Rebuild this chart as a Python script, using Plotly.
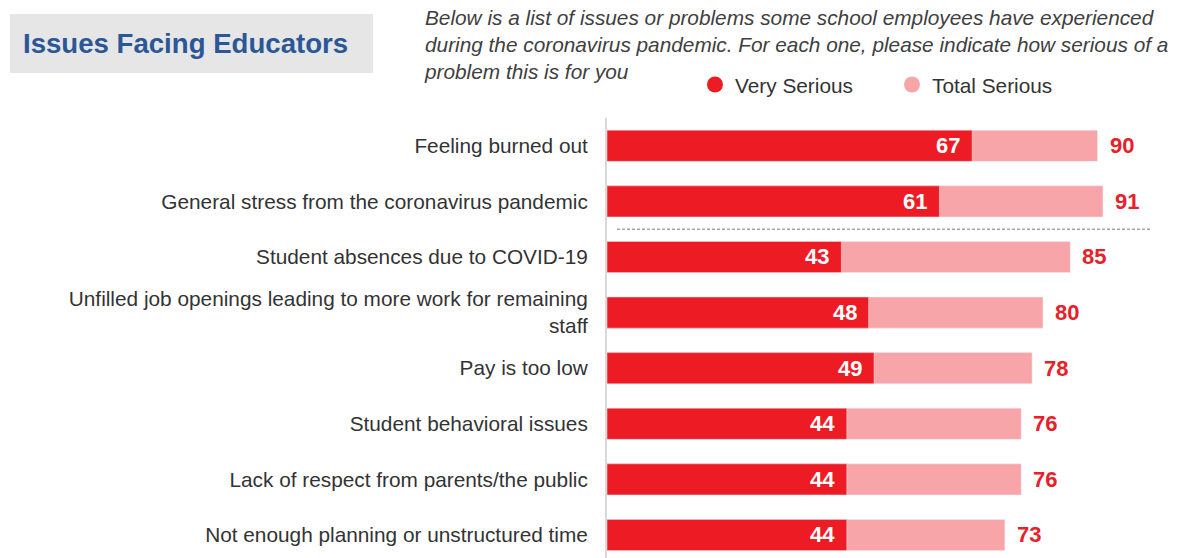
import plotly.graph_objects as go

categories = [
    "Feeling burned out",
    "General stress from the coronavirus pandemic",
    "Student absences due to COVID-19",
    "Unfilled job openings leading to more work for remaining<br>staff",
    "Pay is too low",
    "Student behavioral issues",
    "Lack of respect from parents/the public",
    "Not enough planning or unstructured time",
]
very_serious = [67, 61, 43, 48, 49, 44, 44, 44]
total_serious = [90, 91, 85, 80, 78, 76, 76, 73]

RED = "#ED1C24"
PINK = "#F7A5A9"
LABEL_RED = "#E8202A"
FONT = "Liberation Sans, Arial, sans-serif"

W, H = 1178, 558
ML, MR, MT, MB = 607, 26, 118, 0
PW, PH = W - ML - MR, H - MT - MB


def px_x(p):
    return (p - ML) / PW


def px_y(p):
    return (H - MB - p) / PH


fig = go.Figure()
fig.add_trace(go.Bar(
    y=categories, x=total_serious, orientation="h", marker_color=PINK,
    showlegend=False, width=0.56, hoverinfo="skip",
))
fig.add_trace(go.Bar(
    y=categories, x=very_serious, orientation="h", marker_color=RED,
    showlegend=False, width=0.56, hoverinfo="skip",
))
# legend entries
fig.add_trace(go.Scatter(x=[None], y=[None], mode="markers", name="Very Serious",
                         marker=dict(color=RED, size=17, symbol="circle")))
fig.add_trace(go.Scatter(x=[None], y=[None], mode="markers", name="Total Serious",
                         marker=dict(color=PINK, size=17, symbol="circle")))

annotations = [
    dict(text="<b>Issues Facing Educators</b>", xref="paper", yref="paper",
         x=px_x(21), y=px_y(44), xanchor="left", yanchor="middle", showarrow=False,
         font=dict(size=27.6, color="#2B5797", family=FONT)),
    dict(text="<i>Below is a list of issues or problems some school employees have experienced<br>"
              "during the coronavirus pandemic. For each one, please indicate how serious of a<br>"
              "problem this is for you</i>",
         xref="paper", yref="paper", x=px_x(422), y=px_y(4), xanchor="left", yanchor="top",
         align="left", showarrow=False,
         font=dict(size=20.8, color="#404040", family=FONT)),
]
for cat, v in zip(categories, very_serious):
    annotations.append(dict(text=f"<b>{v}</b>", x=v, y=cat, xref="x", yref="y",
                            xanchor="right", yanchor="middle", xshift=-10, showarrow=False,
                            font=dict(size=22, color="white", family=FONT)))
for cat, v in zip(categories, total_serious):
    annotations.append(dict(text=f"<b>{v}</b>", x=v, y=cat, xref="x", yref="y",
                            xanchor="left", yanchor="middle", xshift=10, showarrow=False,
                            font=dict(size=22, color=LABEL_RED, family=FONT)))

fig.update_layout(
    width=W, height=H,
    margin=dict(l=ML, r=MR, t=MT, b=MB),
    barmode="overlay",
    plot_bgcolor="white", paper_bgcolor="white",
    font=dict(family=FONT, color="#333333", size=20.8),
    showlegend=True,
    legend=dict(orientation="h", x=px_x(695), y=px_y(85), xanchor="left", yanchor="middle",
                font=dict(size=20.8, color="#333333"), itemwidth=30,
                entrywidth=152, entrywidthmode="pixels",
                bgcolor="rgba(0,0,0,0)"),
    xaxis=dict(range=[0, 100], visible=False, fixedrange=True),
    yaxis=dict(type="category", range=[7.414, -0.5], showgrid=False, showline=True,
               linecolor="#d9d9d9", linewidth=2, ticks="", ticklabelstandoff=13,
               tickfont=dict(size=20.8, color="#333333"), fixedrange=True),
    shapes=[
        dict(type="rect", xref="paper", yref="paper", x0=px_x(10), x1=px_x(373),
             y0=px_y(73), y1=px_y(14), fillcolor="#E6E6E6", line=dict(width=0), layer="below"),
        dict(type="line", xref="paper", yref="y", x0=px_x(617), x1=px_x(1150),
             y0=1.5, y1=1.5, line=dict(color="#777777", width=1, dash="3px,2px")),
    ],
    annotations=annotations,
)

fig.write_html("out.html", config={"displayModeBar": False},
               post_script="document.body.style.margin='0';")
